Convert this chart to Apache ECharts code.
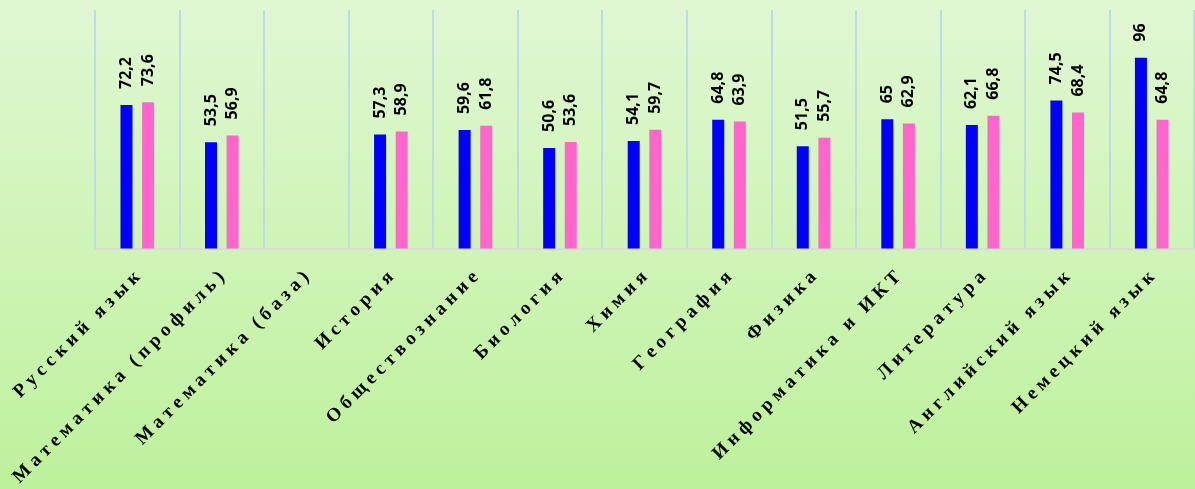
<!DOCTYPE html>
<html>
<head>
<meta charset="UTF-8">
<title>bar</title>
<script type="text/javascript" src="https://cdn.jsdelivr.net/npm/echarts@6/dist/echarts.min.js"></script>
<style>
	html, body { margin: 0; padding: 0; }
	#main { width: 1195px; height: 489px; background: linear-gradient(to bottom, #e0f7d3, #bdf19b); }
</style>
</head>
<body>
<div id="main"></div>

<script type="text/javascript">
	// предметы
	var subjects = ['Русский язык', 'Математика (профиль)', 'Математика (база)', 'История',
		'Обществознание', 'Биология', 'Химия', 'География', 'Физика',
		'Информатика и ИКТ', 'Литература', 'Английский язык', 'Немецкий язык'];
	// средний балл, синие столбцы
	var scoresBlue = [72.2, 53.5, null, 57.3, 59.6, 50.6, 54.1, 64.8, 51.5, 65, 62.1, 74.5, 96];
	// средний балл, розовые столбцы
	var scoresPink = [73.6, 56.9, null, 58.9, 61.8, 53.6, 59.7, 63.9, 55.7, 62.9, 66.8, 68.4, 64.8];

	var mychart = echarts.init(document.getElementById('main'));

	var barLabel = {
		show: true,
		position: 'top',
		rotate: 90,
		align: 'left',
		verticalAlign: 'middle',
		distance: 16,
		color: '#000',
		fontFamily: 'Open Sans',
		fontWeight: 'bold',
		fontSize: 16,
		formatter: function (p) {
			return String(p.value).replace('.', ',');
		}
	};

	var option = {
		animation: false,
		grid: {
			left: 95,
			right: 1,
			top: 10,
			bottom: 240
		},
		xAxis: {
			type: 'category',
			data: subjects,
			axisLine: { lineStyle: { color: '#d9d9d9', width: 2 } },
			axisTick: { show: false },
			splitLine: { show: true, interval: 0, lineStyle: { color: '#bcdde6', width: 2 } },
			axisLabel: {
				interval: 0,
				rotate: 45,
				margin: 26,
				color: '#000',
				fontFamily: 'Liberation Serif',
				fontWeight: 'bold',
				fontSize: 19,
				// разрядка букв, как в оригинале
				formatter: function (v) {
					return v.split(' ').map(function (w) {
						return w.split('').join(' ');
					}).join('\u00a0\u2009\u00a0');
				}
			}
		},
		yAxis: {
			type: 'value',
			min: 0,
			max: 120,
			show: false
		},
		series: [{
			name: 'blue',
			type: 'bar',
			data: scoresBlue,
			barWidth: 12,
			barGap: '80%',
			itemStyle: { color: '#0000ff' },
			label: barLabel
		},
		{
			name: 'pink',
			type: 'bar',
			data: scoresPink,
			barWidth: 12,
			itemStyle: { color: '#ff66cc' },
			label: barLabel
		}]
	};

	mychart.setOption(option);
</script>
</body>
</html>
